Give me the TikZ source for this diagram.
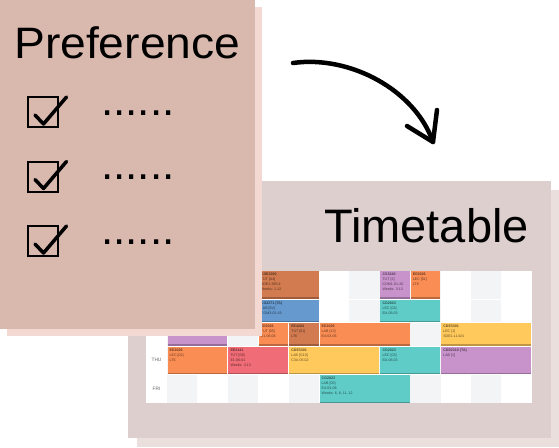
\documentclass[tikz,border=0pt]{standalone}
\usepackage{fontspec}
\setmainfont{Liberation Sans}

\definecolor{prefpink}{HTML}{D9B8AE}
\definecolor{prefshadow}{HTML}{F4D9D2}
\definecolor{ttpanel}{HTML}{DDCFCE}
\definecolor{ttshadow}{HTML}{EADFDD}
\definecolor{colgray}{HTML}{F3F4F6}
\definecolor{modbrown}{HTML}{D27B50}
\definecolor{modorange}{HTML}{FA8D54}
\definecolor{modpurple}{HTML}{C892CB}
\definecolor{modblue}{HTML}{6699CD}
\definecolor{modteal}{HTML}{5FCCC7}
\definecolor{modyellow}{HTML}{FFC95B}
\definecolor{modred}{HTML}{F06C76}

\tikzset{
  panel/.style={draw=none, anchor=north west, inner sep=0pt, outer sep=0pt},
  lessontext/.style={anchor=north west, inner sep=0pt, align=left, font=\fontsize{3.6}{5}\selectfont},
  daylabel/.style={font=\fontsize{4.8}{5}\selectfont, text=black!60},
  bigtext/.style={font=\fontsize{44}{50}\selectfont, inner sep=0pt},
  marker/.style={line width=3.5pt, line cap=round, line join=round},
}

% name, first column, span, top, bottom, colour, text
\newcommand{\lesson}[7]{%
  \path[fill=#6] ({167+30.4*#2+0.5},#4) coordinate (#1-nw) rectangle ({167+30.4*(#2+#3)-0.5},#5);
  \draw[#6!75!black, line width=1.2pt] ({167+30.4*#2+0.5},#5-0.6) -- ({167+30.4*(#2+#3)-0.5},#5-0.6);
  \node[lessontext, text=#6!40!black] (#1) at ([xshift=2pt,yshift=-2pt]#1-nw) {#7};
}

\begin{document}
\begin{tikzpicture}[x=1pt, y=-1pt]
  \useasboundingbox (0,0) rectangle (559,447);

  % timetable card
  \node[panel, fill=ttshadow, minimum width=422pt, minimum height=257pt] (ttshade) at (137,190) {};
  \node[panel, fill=ttpanel, minimum width=423pt, minimum height=257pt] (ttpanel) at (128,181) {};
  \node[bigtext, font=\fontsize{47}{54}\selectfont, anchor=base east] (tttitle) at (529,242) {Timetable};

  % grid
  \fill[white] (146,271) rectangle (532,403);
  \foreach \t/\b in {271/298.5, 299.5/322, 323/345.5, 346.5/374, 375/403}
    \foreach \c in {0,2,...,10}
      \fill[colgray] ({167+30.4*\c},\t) rectangle ({167+30.4*(\c+1)},\b);

  \node[daylabel] (wed) at (156.5,334) {WED};
  \node[daylabel] (thu) at (156.5,360) {THU};
  \node[daylabel] (fri) at (156.5,389) {FRI};

  % lessons
  \lesson{monA}{3}{2}{271}{298.5}{modbrown}{\textbf{CDE2000}\\TUT [A4]\\SDE1-385-4\\Weeks: 1-12}
  \lesson{monB}{7}{1}{271}{298.5}{modpurple}{\textbf{CS3240}\\TUT [2]\\COM1-01-20\\Weeks: 3-13}
  \lesson{monC}{8}{1}{271}{298.5}{modorange}{\textbf{EE2026}\\LEC [01]\\LT6}
  \lesson{tueA}{3}{2}{299.5}{322}{modblue}{\textbf{CG2271 (TA)}\\LAB [6V]\\COM3-01-19}
  \lesson{tueB}{7}{2}{299.5}{322}{modteal}{\textbf{CG2023}\\LEC [03]\\EA-06-03}
  \lesson{wedA}{0}{2}{323}{345.5}{modpurple}{~\\~\\LT19}
  \lesson{wedB}{3}{1}{323}{345.5}{modorange}{\textbf{EE2026}\\TUT [05]\\E1-06-06}
  \lesson{wedC}{4}{1}{323}{345.5}{modbrown}{\textbf{EE4204}\\TUT [01]\\LT6}
  \lesson{wedD}{5}{3}{323}{345.5}{modorange}{\textbf{EE2026}\\LAB [13]\\E4-03-06}
  \lesson{wedE}{9}{3}{323}{345.5}{modyellow}{\textbf{CDE3301}\\LEC [1]\\SDE1-L1424}
  \lesson{thuA}{0}{2}{346.5}{374}{modorange}{\textbf{EE2026}\\LEC [01]\\LT6}
  \lesson{thuB}{2}{2}{346.5}{374}{modred}{\textbf{EE2141}\\TUT [09]\\E1-06-01\\Weeks: 3-13}
  \lesson{thuC}{4}{3}{346.5}{374}{modyellow}{\textbf{CDE3301}\\LAB [G10]\\C3A-05-02}
  \lesson{thuD}{7}{2}{346.5}{374}{modteal}{\textbf{CG2023}\\LEC [03]\\EA-06-03}
  \lesson{thuE}{9}{3}{346.5}{374}{modpurple}{\textbf{CDE2310 (TA)}\\LAB [1]}
  \lesson{friA}{5}{3}{375}{403}{modteal}{\textbf{CG2023}\\LAB [05]\\E4-03-08\\Weeks: 6, 8, 11, 12}

  % preference card
  \node[panel, fill=prefshadow, minimum width=255pt, minimum height=329pt] (prefshade) at (7,7) {};
  \node[panel, fill=prefpink, minimum width=255pt, minimum height=329pt] (prefpanel) at (0,0) {};
  \node[bigtext, anchor=base west, xscale=1.05] (preftitle) at (14,58) {Preference};

  \foreach \y [count=\i] in {97,161.5,226} {
    \draw[line width=2pt] (28,\y) rectangle +(30,30);
    \draw[marker] (35,\y+18) -- (43.5,\y+27) -- (66.5,\y);
    \node[bigtext, anchor=base west] (dots\i) at (101,\y+18) {......};
  }

  % arrow
  \coordinate (arrowstart) at (293,63);
  \coordinate (arrowtip) at (433,142);
  \draw[line width=4.5pt, line cap=round] (arrowstart) .. controls (350,55) and (415,90) .. (arrowtip);
  \draw[line width=4.5pt, line cap=round, line join=round] (437,110) -- (arrowtip) -- (407,126);
\end{tikzpicture}
\end{document}
